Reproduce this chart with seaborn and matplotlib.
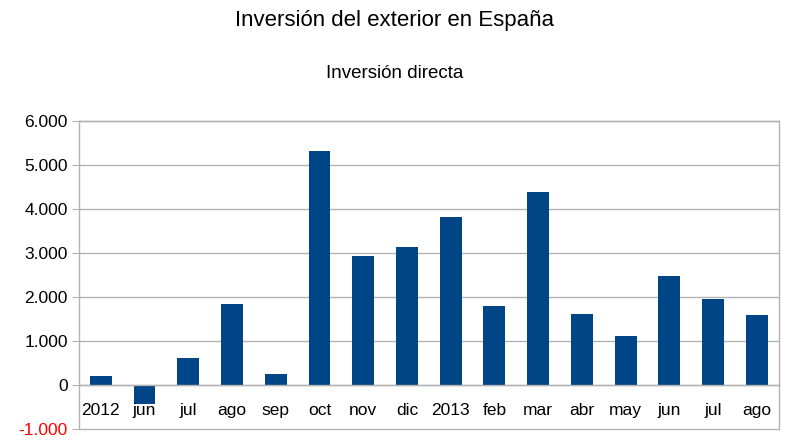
import numpy as np
import pandas as pd
import seaborn as sns
import matplotlib.pyplot as plt
from matplotlib.ticker import FuncFormatter

# data
labels = ['2012', 'jun', 'jul', 'ago', 'sep', 'oct', 'nov', 'dic',
          '2013', 'feb', 'mar', 'abr', 'may', 'jun', 'jul', 'ago']
values = [200, -430, 610, 1840, 250, 5320, 2930, 3130,
          3820, 1800, 4390, 1610, 1110, 2470, 1955, 1585]
y_ticks = [-1000, 0, 1000, 2000, 3000, 4000, 5000, 6000]

df = pd.DataFrame({'pos': np.arange(len(labels)), 'valor': values})

sns.set_style('white')
plt.rcParams['font.family'] = ['Liberation Sans', 'DejaVu Sans']
plt.rcParams['text.color'] = 'black'

fig, ax = plt.subplots(figsize=(7.97, 4.43), dpi=100)
fig.subplots_adjust(left=0.099, right=0.977, top=0.727, bottom=0.032)

grid_c = '#b3b3b3'
# horizontal grid drawn by hand so the axis (and its labels) stays above the bars
for v in y_ticks:
    ax.axhline(v, color=grid_c, linewidth=1, zorder=0.2, clip_on=False)

sns.barplot(data=df, x='pos', y='valor', color='#004586', saturation=1,
            width=0.5, ax=ax, edgecolor='none')
for p in ax.patches:
    p.set_zorder(1)

ax.set_axisbelow(False)
ax.set_ylim(-1000, 6000)
ax.set_xlim(-0.5, len(labels) - 0.5)
ax.set_yticks(y_ticks)
ax.yaxis.set_major_formatter(FuncFormatter(lambda v, p: f'{int(v):,}'.replace(',', '.')))
ax.grid(False)

# x axis sits at zero, labels hang under it
ax.spines['bottom'].set_position(('data', 0))
for s in ['left', 'right', 'top', 'bottom']:
    ax.spines[s].set_color(grid_c)
    ax.spines[s].set_linewidth(1)

ax.set_xticks(np.arange(len(labels)))
ax.set_xticklabels(labels)
ax.set_xticks(np.arange(len(labels) + 1) - 0.5, minor=True)
ax.tick_params(axis='x', which='major', length=0, pad=13, labelsize=12.5, labelcolor='black')
ax.tick_params(axis='x', which='minor', length=5, color=grid_c, direction='out')
ax.tick_params(axis='y', length=5, color=grid_c, pad=3, labelsize=12.5, left=True, labelcolor='black')
ax.get_yticklabels()[0].set_color('#ff0000')

ax.set_xlabel('')
ax.set_ylabel('')

fig.text(0.495, 0.953, 'Inversión del exterior en España', ha='center', va='center', fontsize=16)
fig.text(0.495, 0.835, 'Inversión directa', ha='center', va='center', fontsize=13.5)

plt.savefig('out.png', dpi=100)
